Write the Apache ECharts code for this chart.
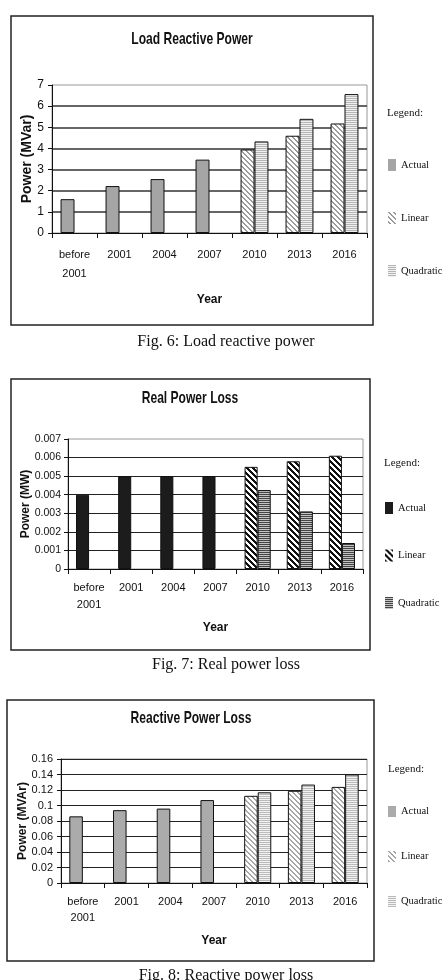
<!DOCTYPE html>
<html>
<head>
<meta charset="utf-8">
<style>
  html, body { margin: 0; padding: 0; background: #fff; }
  #chart { width: 446px; height: 980px; }
</style>
<script src="https://cdn.jsdelivr.net/npm/echarts@6/dist/echarts.min.js"></script>
</head>
<body>
<div id="chart"></div>
<script>
/* ---- data ---- */
let YEARS = ["before\n2001", "2001", "2004", "2007", "2010", "2013", "2016"];
let SERIES_NAMES = ["Actual", "Linear", "Quadratic"];

/* Fig. 6: load reactive power (MVar) */
let LOAD_ACTUAL = [1.6, 2.22, 2.55, 3.47, null, null, null];
let LOAD_LINEAR = [null, null, null, null, 3.95, 4.6, 5.18];
let LOAD_QUAD = [null, null, null, null, 4.33, 5.4, 6.57];

/* Fig. 7: real power loss (MW) */
let REAL_ACTUAL = [0.004, 0.005, 0.005, 0.005, null, null, null];
let REAL_LINEAR = [null, null, null, null, 0.0055, 0.0058, 0.0061];
let REAL_QUAD = [null, null, null, null, 0.00425, 0.0031, 0.0014];

/* Fig. 8: reactive power loss (MVAr) */
let REACT_ACTUAL = [0.086, 0.094, 0.096, 0.107, null, null, null];
let REACT_LINEAR = [null, null, null, null, 0.1125, 0.119, 0.124];
let REACT_QUAD = [null, null, null, null, 0.117, 0.127, 0.14];

let TITLES = ["Load Reactive Power", "Real Power Loss", "Reactive Power Loss"];
let Y_NAMES = ["Power (MVar)", "Power (MW)", "Power (MVAr)"];
let CAPTIONS = ["Fig. 6: Load reactive power", "Fig. 7: Real power loss", "Fig. 8: Reactive power loss"];
let Y_MAX = [7, 0.007, 0.16];
let Y_STEP = [1, 0.001, 0.02];
let Y_DECIMALS = [0, 3, 2];

/* ---- fonts ---- */
let SANS = "'Liberation Sans', Arial, sans-serif";
let SERIF = "'Liberation Serif', 'Times New Roman', serif";

/* striped fills, like the old Excel pattern fills */
function stripes(kind, period, width, fg, bg) {
  let c = document.createElement("canvas");
  c.width = period;
  c.height = period;
  let ctx = c.getContext("2d");
  ctx.fillStyle = bg;
  ctx.fillRect(0, 0, period, period);
  ctx.fillStyle = fg;
  for (let y = 0; y < period; y++) {
    for (let x = 0; x < period; x++) {
      let k = kind === "diag" ? (((x - y) % period) + period) % period : y % period;
      if (k < width) ctx.fillRect(x, y, 1, 1);
    }
  }
  return { image: c, repeat: "repeat" };
}

/* ---- per-figure layout ---- */
let FIGS = [
  {
    values: [LOAD_ACTUAL, LOAD_LINEAR, LOAD_QUAD],
    fills: ["#a5a5a5", stripes("diag", 5, 2, "#9c9c9c", "#fff"), stripes("horiz", 2, 1, "#b5b5b5", "#f0f0f0")],
    box: [11, 16, 362, 309],
    grid: { left: 52, top: 85, width: 315, height: 148 },
    title: [192, 39],
    head: [387, 113],
    legend: { left: 388, top: 159, gap: 41, w: 8, h: 12 },
    yNameGap: 18, yNameSize: 14, yLabelSize: 12, xNameGap: 61,
    labelMargin: 12, lineHeight: 19, yLabelMargin: 8,
    split: { color: "#333", width: 1.5 }, showMax: false,
    caption: 342,
  },
  {
    values: [REAL_ACTUAL, REAL_LINEAR, REAL_QUAD],
    fills: ["#1c1c1c", stripes("diag", 6, 3, "#111", "#fff"), stripes("horiz", 2, 1, "#444", "#c4c4c4")],
    box: [11, 379, 359, 271],
    grid: { left: 68, top: 439, width: 295, height: 130 },
    title: [190, 398],
    head: [384, 463],
    legend: { left: 385, top: 502, gap: 35.5, w: 8, h: 12 },
    yNameGap: 36, yNameSize: 12, yLabelSize: 10.5, xNameGap: 53,
    labelMargin: 10, lineHeight: 17, yLabelMargin: 7,
    split: { color: "#222", width: 1.2 }, showMax: false,
    caption: 665,
  },
  {
    values: [REACT_ACTUAL, REACT_LINEAR, REACT_QUAD],
    fills: ["#ababab", stripes("diag", 5, 2, "#a8a8a8", "#fff"), stripes("horiz", 2, 1, "#bbb", "#f2f2f2")],
    box: [7, 700, 367, 261],
    grid: { left: 61, top: 759, width: 306, height: 124 },
    title: [191, 718],
    head: [388, 769],
    legend: { left: 388, top: 806, gap: 34, w: 8, h: 11 },
    yNameGap: 32, yNameSize: 12, yLabelSize: 11, xNameGap: 52,
    labelMargin: 11, lineHeight: 16, yLabelMargin: 8,
    split: { color: "#222", width: 1.2 }, showMax: true,
    caption: 976,
  },
];

let grids = [], xAxes = [], yAxes = [], series = [], legends = [], graphics = [];

FIGS.forEach(function (f, i) {
  grids.push(Object.assign({ show: true, borderColor: "#999", borderWidth: 1 }, f.grid));

  xAxes.push({
    type: "category", gridIndex: i, data: YEARS,
    name: "Year", nameLocation: "middle", nameGap: f.xNameGap, nameMoveOverlap: false,
    nameTextStyle: { fontFamily: SANS, fontWeight: "bold", fontSize: 12, color: "#111" },
    axisLine: { lineStyle: { color: "#111", width: 1 } },
    axisTick: { show: true, length: 5, lineStyle: { color: "#111" } },
    axisLabel: { interval: 0, margin: f.labelMargin, lineHeight: f.lineHeight,
      fontFamily: SANS, fontSize: 11, color: "#111" },
  });

  yAxes.push({
    type: "value", gridIndex: i, min: 0, max: Y_MAX[i], interval: Y_STEP[i],
    name: Y_NAMES[i], nameLocation: "middle", nameGap: f.yNameGap, nameMoveOverlap: false,
    nameTextStyle: { fontFamily: SANS, fontWeight: "bold", fontSize: f.yNameSize, color: "#111" },
    axisLine: { show: true, lineStyle: { color: "#111", width: 1 } },
    axisTick: { show: true, length: 4, lineStyle: { color: "#111" } },
    axisLabel: { margin: f.yLabelMargin, fontFamily: SANS, fontSize: f.yLabelSize, color: "#111",
      formatter: function (v) { return v === 0 ? "0" : String(+v.toFixed(Y_DECIMALS[i])); } },
    splitLine: { show: true, showMinLine: false, showMaxLine: f.showMax,
      lineStyle: { color: f.split.color, width: f.split.width } },
  });

  SERIES_NAMES.forEach(function (n, j) {
    series.push({
      name: n + "#" + i, type: "bar", xAxisIndex: i, yAxisIndex: i,
      /* Actual and Linear share a slot, Quadratic sits beside it */
      stack: j < 2 ? "main" + i : "quad" + i,
      data: f.values[j],
      barGap: "0%", barCategoryGap: "38%",
      itemStyle: { color: f.fills[j], borderColor: "#111", borderWidth: 1 },
      emphasis: { disabled: true },
    });
  });

  legends.push({
    orient: "vertical", left: f.legend.left, top: f.legend.top, padding: 0,
    itemGap: f.legend.gap, itemWidth: f.legend.w, itemHeight: f.legend.h,
    icon: "rect", selectedMode: false,
    data: SERIES_NAMES.map(function (n) { return n + "#" + i; }),
    formatter: function (n) { return n.split("#")[0]; },
    itemStyle: { borderWidth: 0 },
    textStyle: { fontFamily: SERIF, fontSize: 10.5, color: "#111" },
  });

  graphics.push({
    type: "rect", shape: { x: f.box[0], y: f.box[1], width: f.box[2], height: f.box[3] },
    style: { fill: null, stroke: "#222", lineWidth: 1.5 }, silent: true,
  });
  /* the source figures are horizontally squeezed, so the titles are too */
  graphics.push({
    type: "text", x: f.title[0], y: f.title[1], scaleX: 0.71,
    style: { text: TITLES[i], textAlign: "center", textVerticalAlign: "middle",
      font: "bold 17px " + SANS, fill: "#111" },
  });
  graphics.push({
    type: "text", x: f.head[0], y: f.head[1],
    style: { text: "Legend:", textAlign: "left", textVerticalAlign: "middle",
      font: "11px " + SERIF, fill: "#111" },
  });
  graphics.push({
    type: "text", x: 226, y: f.caption,
    style: { text: CAPTIONS[i], textAlign: "center", textVerticalAlign: "middle",
      font: "16px " + SERIF, fill: "#111" },
  });
});

let chart = echarts.init(document.getElementById("chart"), null, { renderer: "canvas" });
chart.setOption({
  animation: false,
  backgroundColor: "#fff",
  grid: grids,
  xAxis: xAxes,
  yAxis: yAxes,
  legend: legends,
  series: series,
  graphic: graphics,
});
</script>
</body>
</html>
